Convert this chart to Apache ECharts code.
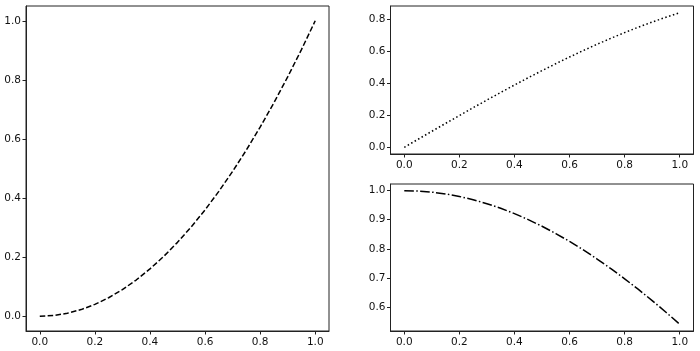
<!DOCTYPE html>
<html>
<head>
<meta charset="utf-8">
<script src="https://cdn.jsdelivr.net/npm/echarts@6/dist/echarts.min.js"></script>
<style>
  html, body { margin: 0; padding: 0; background: #fff; }
  #chart { width: 700px; height: 351px; }
</style>
</head>
<body>
<div id="chart"></div>
<script>
// x samples shared by all three panels
var xs = [0, 0.05, 0.1, 0.15, 0.2, 0.25, 0.3, 0.35, 0.4, 0.45, 0.5,
          0.55, 0.6, 0.65, 0.7, 0.75, 0.8, 0.85, 0.9, 0.95, 1.0];

// left panel (dashed)
var leftVals = [0, 0.0025, 0.01, 0.0225, 0.04, 0.0625, 0.09, 0.1225, 0.16, 0.2025, 0.25,
                0.3025, 0.36, 0.4225, 0.49, 0.5625, 0.64, 0.7225, 0.81, 0.9025, 1.0];
// top right panel (dotted)
var topVals = [0, 0.05, 0.0998, 0.1494, 0.1987, 0.2474, 0.2955, 0.3429, 0.3894, 0.435, 0.4794,
               0.5227, 0.5646, 0.6052, 0.6442, 0.6816, 0.7174, 0.7513, 0.7833, 0.8134, 0.8415];
// bottom right panel (dash-dot)
var bottomVals = [1, 0.9988, 0.995, 0.9888, 0.9801, 0.9689, 0.9553, 0.9394, 0.9211, 0.9004, 0.8776,
                  0.8525, 0.8253, 0.7961, 0.7648, 0.7317, 0.6967, 0.66, 0.6216, 0.5817, 0.5403];

// tick labels
var xTicks = [0, 0.2, 0.4, 0.6, 0.8, 1.0];
var leftTicks = [0, 0.2, 0.4, 0.6, 0.8, 1.0];
var topTicks = [0, 0.2, 0.4, 0.6, 0.8];
var bottomTicks = [0.6, 0.7, 0.8, 0.9, 1.0];

function pairs(x, y) {
    var out = [];
    for (var i = 0; i < x.length; i++) out.push([x[i], y[i]]);
    return out;
}

var axisColor = '#222';

function makeAxis(gridIndex, min, max, ticks, isX) {
    return {
        type: 'value',
        gridIndex: gridIndex,
        min: min,
        max: max,
        axisLine: {show: true, onZero: false, lineStyle: {color: axisColor, width: 1}},
        axisTick: {show: true, inside: false, length: 3.5, customValues: ticks,
                   lineStyle: {color: axisColor, width: 1}},
        axisLabel: {
            show: true, customValues: ticks, margin: isX ? 6 : 5,
            color: '#111', fontSize: 10.5, fontFamily: 'DejaVu Sans',
            formatter: function (v) { return v.toFixed(1); }
        },
        splitLine: {show: false}
    };
}

var chart = echarts.init(document.getElementById('chart'), null, {renderer: 'canvas'});

var option = {
    animation: false,
    backgroundColor: '#fff',
    grid: [
        {left: 26, top: 6, width: 303, height: 325, show: true, borderColor: axisColor, borderWidth: 1, containLabel: false},
        {left: 390.5, top: 6, width: 303, height: 148, show: true, borderColor: axisColor, borderWidth: 1, containLabel: false},
        {left: 390.5, top: 184, width: 303, height: 147, show: true, borderColor: axisColor, borderWidth: 1, containLabel: false}
    ],
    xAxis: [
        makeAxis(0, -0.05, 1.05, xTicks, true),
        makeAxis(1, -0.05, 1.05, xTicks, true),
        makeAxis(2, -0.05, 1.05, xTicks, true)
    ],
    yAxis: [
        makeAxis(0, -0.05, 1.05, leftTicks, false),
        makeAxis(1, -0.042, 0.8836, topTicks, false),
        makeAxis(2, 0.517, 1.023, bottomTicks, false)
    ],
    series: [
        {
            type: 'line', xAxisIndex: 0, yAxisIndex: 0, data: pairs(xs, leftVals),
            showSymbol: false, symbol: 'none',
            lineStyle: {color: '#000', width: 1.5, type: [5.5, 2.4]}
        },
        {
            type: 'line', xAxisIndex: 1, yAxisIndex: 1, data: pairs(xs, topVals),
            showSymbol: false, symbol: 'none',
            lineStyle: {color: '#000', width: 1.5, type: [1.5, 2.5]}
        },
        {
            type: 'line', xAxisIndex: 2, yAxisIndex: 2, data: pairs(xs, bottomVals),
            showSymbol: false, symbol: 'none',
            lineStyle: {color: '#000', width: 1.5, type: [9.6, 2.4, 1.5, 2.4]}
        }
    ]
};

chart.setOption(option);
</script>
</body>
</html>
